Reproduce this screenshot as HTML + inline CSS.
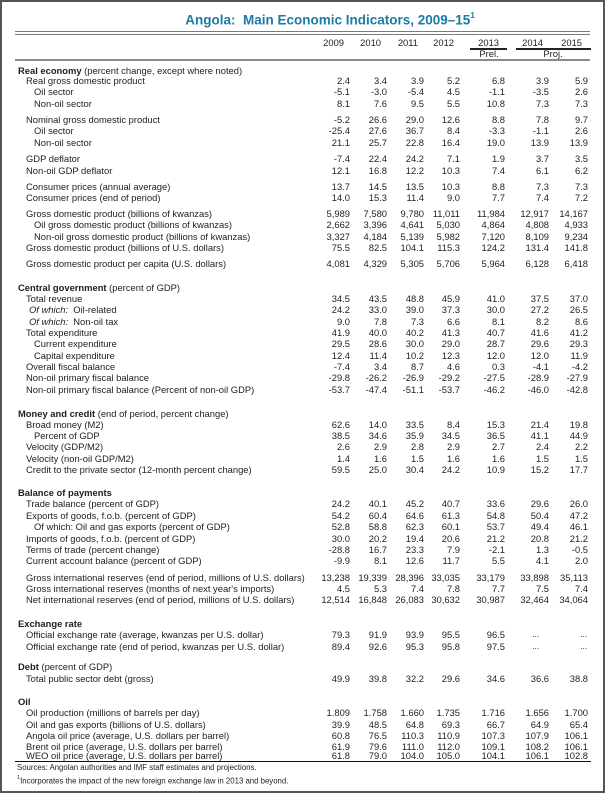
<!DOCTYPE html>
<html><head><meta charset="utf-8">
<style>
*{margin:0;padding:0;box-sizing:border-box}
html,body{width:605px;height:793px;background:#fff;overflow:hidden}
body{position:relative;font-family:"Liberation Sans",Arial,sans-serif;color:#1e1e1e;font-size:9.4px}
.frame{position:absolute;left:0;top:0;width:605px;height:793px;border:2px solid #555}
.title{position:absolute;left:130px;width:400px;top:9px;line-height:16px;text-align:center;font-weight:bold;font-size:13.5px;color:#1f7aa3;white-space:pre}
.title sup{font-size:8px;position:relative;top:-1px}
.ln{position:absolute}
.r{position:absolute;left:0;width:605px;height:12px;line-height:12px}
.r span{position:absolute;top:0;white-space:nowrap}
.s{left:18px}.s b{font-weight:bold}
.l1{left:26px}.l2{left:34px}.lw{left:29px}
.a{right:255px}.b{right:218px}.c{right:181px}.d{right:145px}.e{right:100px}.f{right:56px}.g{right:17px}
.y .a{right:261px}.y .b{right:224px}.y .c{right:187px}.y .d{right:151px}.y .e{right:106px}.y .f{right:62px}.y .g{right:23px}
.dots{font-size:8px}
.fn{position:absolute;left:17px;font-size:7.8px;line-height:10px;white-space:nowrap}
.fn sup{font-size:5.5px;position:relative;top:-1px}
</style></head><body>
<div class="frame"></div>
<div class="title">Angola:  Main Economic Indicators, 2009–15<sup>1</sup></div>

<div class="ln" style="left:15px;width:575px;top:30.5px;height:1.5px;background:#7a7a7a"></div>
<div class="ln" style="left:15px;width:575px;top:33.5px;height:1.5px;background:#7a7a7a"></div>
<div class="ln" style="left:470px;width:37px;top:48px;height:1.5px;background:#222"></div>
<div class="ln" style="left:516px;width:75px;top:48px;height:1.5px;background:#222"></div>
<div class="ln" style="left:15px;width:575px;top:59px;height:1.5px;background:#8a8a8a"></div>
<div class="ln" style="left:15px;width:576px;top:760.5px;height:1.5px;background:#111"></div>

<div class="r y" style="top:37px"><span class="a">2009</span><span class="b">2010</span><span class="c">2011</span><span class="d">2012</span><span class="e">2013</span><span class="f">2014</span><span class="g">2015</span></div>
<div class="r" style="top:47.5px"><span style="left:469px;width:40px;text-align:center">Prel.</span><span style="left:523px;width:60px;text-align:center">Proj.</span></div>

<div class="r" style="top:64.7px"><span class="s"><b>Real economy</b> (percent change, except where noted)</span></div>
<div class="r" style="top:74.5px"><span class="l1">Real gross domestic product</span><span class="a">2.4</span><span class="b">3.4</span><span class="c">3.9</span><span class="d">5.2</span><span class="e">6.8</span><span class="f">3.9</span><span class="g">5.9</span></div>
<div class="r" style="top:86px"><span class="l2">Oil sector</span><span class="a">-5.1</span><span class="b">-3.0</span><span class="c">-5.4</span><span class="d">4.5</span><span class="e">-1.1</span><span class="f">-3.5</span><span class="g">2.6</span></div>
<div class="r" style="top:97.5px"><span class="l2">Non-oil sector</span><span class="a">8.1</span><span class="b">7.6</span><span class="c">9.5</span><span class="d">5.5</span><span class="e">10.8</span><span class="f">7.3</span><span class="g">7.3</span></div>
<div class="r" style="top:114px"><span class="l1">Nominal gross domestic product</span><span class="a">-5.2</span><span class="b">26.6</span><span class="c">29.0</span><span class="d">12.6</span><span class="e">8.8</span><span class="f">7.8</span><span class="g">9.7</span></div>
<div class="r" style="top:125.3px"><span class="l2">Oil sector</span><span class="a">-25.4</span><span class="b">27.6</span><span class="c">36.7</span><span class="d">8.4</span><span class="e">-3.3</span><span class="f">-1.1</span><span class="g">2.6</span></div>
<div class="r" style="top:136.7px"><span class="l2">Non-oil sector</span><span class="a">21.1</span><span class="b">25.7</span><span class="c">22.8</span><span class="d">16.4</span><span class="e">19.0</span><span class="f">13.9</span><span class="g">13.9</span></div>
<div class="r" style="top:153px"><span class="l1">GDP deflator</span><span class="a">-7.4</span><span class="b">22.4</span><span class="c">24.2</span><span class="d">7.1</span><span class="e">1.9</span><span class="f">3.7</span><span class="g">3.5</span></div>
<div class="r" style="top:164.5px"><span class="l1">Non-oil GDP deflator</span><span class="a">12.1</span><span class="b">16.8</span><span class="c">12.2</span><span class="d">10.3</span><span class="e">7.4</span><span class="f">6.1</span><span class="g">6.2</span></div>
<div class="r" style="top:180.7px"><span class="l1">Consumer prices (annual average)</span><span class="a">13.7</span><span class="b">14.5</span><span class="c">13.5</span><span class="d">10.3</span><span class="e">8.8</span><span class="f">7.3</span><span class="g">7.3</span></div>
<div class="r" style="top:191.8px"><span class="l1">Consumer prices (end of period)</span><span class="a">14.0</span><span class="b">15.3</span><span class="c">11.4</span><span class="d">9.0</span><span class="e">7.7</span><span class="f">7.4</span><span class="g">7.2</span></div>
<div class="r" style="top:208px"><span class="l1">Gross domestic product (billions of kwanzas)</span><span class="a">5,989</span><span class="b">7,580</span><span class="c">9,780</span><span class="d">11,011</span><span class="e">11,984</span><span class="f">12,917</span><span class="g">14,167</span></div>
<div class="r" style="top:219.3px"><span class="l2">Oil gross domestic product (billions of kwanzas)</span><span class="a">2,662</span><span class="b">3,396</span><span class="c">4,641</span><span class="d">5,030</span><span class="e">4,864</span><span class="f">4,808</span><span class="g">4,933</span></div>
<div class="r" style="top:230.7px"><span class="l2">Non-oil gross domestic product (billions of kwanzas)</span><span class="a">3,327</span><span class="b">4,184</span><span class="c">5,139</span><span class="d">5,982</span><span class="e">7,120</span><span class="f">8,109</span><span class="g">9,234</span></div>
<div class="r" style="top:242.2px"><span class="l1">Gross domestic product (billions of U.S. dollars)</span><span class="a">75.5</span><span class="b">82.5</span><span class="c">104.1</span><span class="d">115.3</span><span class="e">124.2</span><span class="f">131.4</span><span class="g">141.8</span></div>
<div class="r" style="top:258px"><span class="l1">Gross domestic product per capita (U.S. dollars)</span><span class="a">4,081</span><span class="b">4,329</span><span class="c">5,305</span><span class="d">5,706</span><span class="e">5,964</span><span class="f">6,128</span><span class="g">6,418</span></div>

<div class="r" style="top:282.3px"><span class="s"><b>Central government</b> (percent of GDP)</span></div>
<div class="r" style="top:293px"><span class="l1">Total revenue</span><span class="a">34.5</span><span class="b">43.5</span><span class="c">48.8</span><span class="d">45.9</span><span class="e">41.0</span><span class="f">37.5</span><span class="g">37.0</span></div>
<div class="r" style="top:304.3px"><span class="lw"><i>Of which:</i>&nbsp; Oil-related</span><span class="a">24.2</span><span class="b">33.0</span><span class="c">39.0</span><span class="d">37.3</span><span class="e">30.0</span><span class="f">27.2</span><span class="g">26.5</span></div>
<div class="r" style="top:315.5px"><span class="lw"><i>Of which:</i>&nbsp; Non-oil tax</span><span class="a">9.0</span><span class="b">7.8</span><span class="c">7.3</span><span class="d">6.6</span><span class="e">8.1</span><span class="f">8.2</span><span class="g">8.6</span></div>
<div class="r" style="top:326.6px"><span class="l1">Total expenditure</span><span class="a">41.9</span><span class="b">40.0</span><span class="c">40.2</span><span class="d">41.3</span><span class="e">40.7</span><span class="f">41.6</span><span class="g">41.2</span></div>
<div class="r" style="top:338px"><span class="l2">Current expenditure</span><span class="a">29.5</span><span class="b">28.6</span><span class="c">30.0</span><span class="d">29.0</span><span class="e">28.7</span><span class="f">29.6</span><span class="g">29.3</span></div>
<div class="r" style="top:349.5px"><span class="l2">Capital expenditure</span><span class="a">12.4</span><span class="b">11.4</span><span class="c">10.2</span><span class="d">12.3</span><span class="e">12.0</span><span class="f">12.0</span><span class="g">11.9</span></div>
<div class="r" style="top:361px"><span class="l1">Overall fiscal balance</span><span class="a">-7.4</span><span class="b">3.4</span><span class="c">8.7</span><span class="d">4.6</span><span class="e">0.3</span><span class="f">-4.1</span><span class="g">-4.2</span></div>
<div class="r" style="top:372.3px"><span class="l1">Non-oil primary fiscal balance</span><span class="a">-29.8</span><span class="b">-26.2</span><span class="c">-26.9</span><span class="d">-29.2</span><span class="e">-27.5</span><span class="f">-28.9</span><span class="g">-27.9</span></div>
<div class="r" style="top:383.7px"><span class="l1">Non-oil primary fiscal balance (Percent of non-oil GDP)</span><span class="a">-53.7</span><span class="b">-47.4</span><span class="c">-51.1</span><span class="d">-53.7</span><span class="e">-46.2</span><span class="f">-46.0</span><span class="g">-42.8</span></div>

<div class="r" style="top:407.7px"><span class="s"><b>Money and credit</b> (end of period, percent change)</span></div>
<div class="r" style="top:418.5px"><span class="l1">Broad money (M2)</span><span class="a">62.6</span><span class="b">14.0</span><span class="c">33.5</span><span class="d">8.4</span><span class="e">15.3</span><span class="f">21.4</span><span class="g">19.8</span></div>
<div class="r" style="top:429.8px"><span class="l2">Percent of GDP</span><span class="a">38.5</span><span class="b">34.6</span><span class="c">35.9</span><span class="d">34.5</span><span class="e">36.5</span><span class="f">41.1</span><span class="g">44.9</span></div>
<div class="r" style="top:441.2px"><span class="l1">Velocity (GDP/M2)</span><span class="a">2.6</span><span class="b">2.9</span><span class="c">2.8</span><span class="d">2.9</span><span class="e">2.7</span><span class="f">2.4</span><span class="g">2.2</span></div>
<div class="r" style="top:452.7px"><span class="l1">Velocity (non-oil GDP/M2)</span><span class="a">1.4</span><span class="b">1.6</span><span class="c">1.5</span><span class="d">1.6</span><span class="e">1.6</span><span class="f">1.5</span><span class="g">1.5</span></div>
<div class="r" style="top:464.2px"><span class="l1">Credit to the private sector (12-month percent change)</span><span class="a">59.5</span><span class="b">25.0</span><span class="c">30.4</span><span class="d">24.2</span><span class="e">10.9</span><span class="f">15.2</span><span class="g">17.7</span></div>

<div class="r" style="top:487px"><span class="s"><b>Balance of payments</b></span></div>
<div class="r" style="top:498.3px"><span class="l1">Trade balance (percent of GDP)</span><span class="a">24.2</span><span class="b">40.1</span><span class="c">45.2</span><span class="d">40.7</span><span class="e">33.6</span><span class="f">29.6</span><span class="g">26.0</span></div>
<div class="r" style="top:509.7px"><span class="l1">Exports of goods, f.o.b. (percent of GDP)</span><span class="a">54.2</span><span class="b">60.4</span><span class="c">64.6</span><span class="d">61.3</span><span class="e">54.8</span><span class="f">50.4</span><span class="g">47.2</span></div>
<div class="r" style="top:521.2px"><span class="l2">Of which: Oil and gas exports (percent of GDP)</span><span class="a">52.8</span><span class="b">58.8</span><span class="c">62.3</span><span class="d">60.1</span><span class="e">53.7</span><span class="f">49.4</span><span class="g">46.1</span></div>
<div class="r" style="top:532.6px"><span class="l1">Imports of goods, f.o.b. (percent of GDP)</span><span class="a">30.0</span><span class="b">20.2</span><span class="c">19.4</span><span class="d">20.6</span><span class="e">21.2</span><span class="f">20.8</span><span class="g">21.2</span></div>
<div class="r" style="top:544px"><span class="l1">Terms of trade (percent change)</span><span class="a">-28.8</span><span class="b">16.7</span><span class="c">23.3</span><span class="d">7.9</span><span class="e">-2.1</span><span class="f">1.3</span><span class="g">-0.5</span></div>
<div class="r" style="top:555.2px"><span class="l1">Current account balance (percent of GDP)</span><span class="a">-9.9</span><span class="b">8.1</span><span class="c">12.6</span><span class="d">11.7</span><span class="e">5.5</span><span class="f">4.1</span><span class="g">2.0</span></div>
<div class="r" style="top:571.5px"><span class="l1">Gross international reserves (end of period, millions of U.S. dollars)</span><span class="a">13,238</span><span class="b">19,339</span><span class="c">28,396</span><span class="d">33,035</span><span class="e">33,179</span><span class="f">33,898</span><span class="g">35,113</span></div>
<div class="r" style="top:583.2px"><span class="l1">Gross international reserves (months of next year's imports)</span><span class="a">4.5</span><span class="b">5.3</span><span class="c">7.4</span><span class="d">7.8</span><span class="e">7.7</span><span class="f">7.5</span><span class="g">7.4</span></div>
<div class="r" style="top:594.4px"><span class="l1">Net international reserves (end of period, millions of U.S. dollars)</span><span class="a">12,514</span><span class="b">16,848</span><span class="c">26,083</span><span class="d">30,632</span><span class="e">30,987</span><span class="f">32,464</span><span class="g">34,064</span></div>

<div class="r" style="top:617.5px"><span class="s"><b>Exchange rate</b></span></div>
<div class="r" style="top:629.2px"><span class="l1">Official exchange rate (average, kwanzas per U.S. dollar)</span><span class="a">79.3</span><span class="b">91.9</span><span class="c">93.9</span><span class="d">95.5</span><span class="e">96.5</span><span class="dots" style="right:66px">...</span><span class="dots" style="right:18px">...</span></div>
<div class="r" style="top:640.5px"><span class="l1">Official exchange rate (end of period, kwanzas per U.S. dollar)</span><span class="a">89.4</span><span class="b">92.6</span><span class="c">95.3</span><span class="d">95.8</span><span class="e">97.5</span><span class="dots" style="right:66px">...</span><span class="dots" style="right:18px">...</span></div>

<div class="r" style="top:661.2px"><span class="s"><b>Debt</b> (percent of GDP)</span></div>
<div class="r" style="top:673.2px"><span class="l1">Total public sector debt (gross)</span><span class="a">49.9</span><span class="b">39.8</span><span class="c">32.2</span><span class="d">29.6</span><span class="e">34.6</span><span class="f">36.6</span><span class="g">38.8</span></div>

<div class="r" style="top:695.6px"><span class="s"><b>Oil</b></span></div>
<div class="r" style="top:707.3px"><span class="l1">Oil production (millions of barrels per day)</span><span class="a">1.809</span><span class="b">1.758</span><span class="c">1.660</span><span class="d">1.735</span><span class="e">1.716</span><span class="f">1.656</span><span class="g">1.700</span></div>
<div class="r" style="top:718.6px"><span class="l1">Oil and gas exports (billions of U.S. dollars)</span><span class="a">39.9</span><span class="b">48.5</span><span class="c">64.8</span><span class="d">69.3</span><span class="e">66.7</span><span class="f">64.9</span><span class="g">65.4</span></div>
<div class="r" style="top:730px"><span class="l1">Angola oil price (average, U.S. dollars per barrel)</span><span class="a">60.8</span><span class="b">76.5</span><span class="c">110.3</span><span class="d">110.9</span><span class="e">107.3</span><span class="f">107.9</span><span class="g">106.1</span></div>
<div class="r" style="top:740.7px"><span class="l1">Brent oil price (average, U.S. dollars per barrel)</span><span class="a">61.9</span><span class="b">79.6</span><span class="c">111.0</span><span class="d">112.0</span><span class="e">109.1</span><span class="f">108.2</span><span class="g">106.1</span></div>
<div class="r" style="top:749.5px"><span class="l1">WEO oil price (average, U.S. dollars per barrel)</span><span class="a">61.8</span><span class="b">79.0</span><span class="c">104.0</span><span class="d">105.0</span><span class="e">104.1</span><span class="f">106.1</span><span class="g">102.8</span></div>

<div class="fn" style="top:763.3px">Sources: Angolan authorities and IMF staff estimates and projections.</div>
<div class="fn" style="top:774px"><sup>1</sup>Incorporates the impact of the new foreign exchange law in 2013 and beyond.</div>
</body></html>
